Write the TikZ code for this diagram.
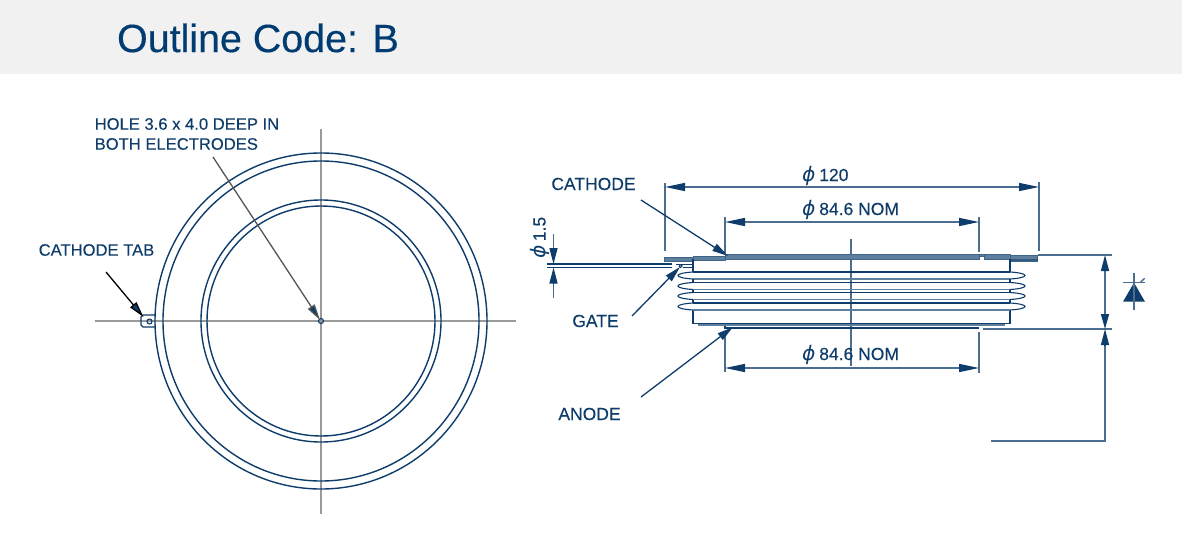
\documentclass[tikz,border=0pt]{standalone}
\usepackage{fontspec}
\setmainfont{Liberation Sans}
\newfontfamily\phifont[FakeSlant=0.2]{DejaVu Sans}
\usetikzlibrary{arrows.meta}
\definecolor{navy}{HTML}{0F3D6B}
\definecolor{titleblue}{HTML}{003C71}
\definecolor{steel}{HTML}{5F7F9F}
\definecolor{greyaxis}{HTML}{9A9A9A}
\definecolor{band}{HTML}{F1F1F1}
\newcommand{\dia}{{\fontsize{20}{20}\phifont ϕ}}
\tikzset{
  x=1pt,y=-1pt,
  outline/.style={draw=navy,line width=1.4pt},
  lobe/.style={draw=navy,line width=1.1pt},
  soft/.style={draw=steel,line width=1.6pt},
  axis/.style={draw=greyaxis,line width=1.5pt},
  dimline/.style={draw=navy!75!white,line width=1.4pt},
  dimarrow/.style={draw=navy,line width=1.3pt,-{Triangle[length=16pt,width=8pt,fill=navy]}},
  bothends/.style={draw=navy!75!white,line width=1.4pt,{Triangle[length=20pt,width=8pt,fill=navy,color=navy]}-{Triangle[length=20pt,width=8pt,fill=navy,color=navy]}},
  label/.style={text=navy,font=\fontsize{16.6}{20}\selectfont\addfontfeature{FakeBold=0.2},inner sep=0pt,anchor=center},
  biglabel/.style={label,font=\fontsize{17.5}{20}\selectfont\addfontfeature{FakeBold=0.2}},
  platefill/.style={fill=steel,draw=navy!80!white,line width=.5pt}
}
\begin{document}
\begin{tikzpicture}
\useasboundingbox (0,0) rectangle (1182,549);
\fill[white] (0,0) rectangle (1182,549);
\fill[band] (0,0) rectangle (1182,74);
\node[text=titleblue,font=\fontsize{39.4}{44}\selectfont\addfontfeature{FakeBold=0.35},inner sep=0pt,anchor=center] (title) at (258,38) {Outline Code: B};

% --- left view
\draw[axis] (95,321) -- (516,321);
\draw[axis] (321,129) -- (321,514);
\draw[outline] (321,321) ellipse [x radius=166,y radius=168];
\draw[outline] (321,321) ellipse [x radius=158,y radius=160];
\draw[outline] (321,321) ellipse [x radius=120,y radius=121];
\draw[outline] (321,321) ellipse [x radius=114,y radius=115];
\draw[outline,line width=1.1pt] (321,321) circle (2.5);
\draw[outline] (155,315) -- (143,315) -- (141,317) -- (141,325) -- (143,327) -- (155,327);
\draw[outline,line width=1.1pt] (149.5,321.5) circle (2.5);

\node[label,anchor=west] (hole1) at (94.5,124) {HOLE 3.6 x 4.0 DEEP IN};
\node[label,anchor=west] (hole2) at (94.5,144) {BOTH ELECTRODES};
\node[label,anchor=west] (tab) at (38.5,250) {CATHODE TAB};
\coordinate (holefrom) at (213,157);
\coordinate (holeto) at (320,320);
\coordinate (tabfrom) at (106,272);
\coordinate (tabto) at (143.5,317);
\draw[dimarrow,draw=black!45!greyaxis] (holefrom) -- (holeto);
\draw[dimarrow,draw=black] (tabfrom) -- (tabto);

% --- right view: centre line
\draw[dimline] (851,239) -- (851,366);

% flange and plate
\filldraw[platefill] (664.5,257) rectangle (693,261.3);
\filldraw[platefill] (1010,255) rectangle (1037.5,261.3);
\fill[navy!85!white] (1010,259.3) rectangle (1037.5,261.3);
\filldraw[platefill] (693,256.5) rectangle (725,260);
\filldraw[platefill] (725,254.5) rectangle (979,259.3);
\filldraw[platefill] (984,254.5) rectangle (1010,259.3);
\filldraw[platefill] (979,254.5) rectangle (984,256);

% body
\draw[outline] (693,259) -- (693,272);
\draw[outline] (1010,259) -- (1010,272);
\draw[outline] (693,310) -- (693,323.5) -- (1010,323.5) -- (1010,310);
\draw[soft,line width=1.8pt] (698,325) -- (1005,325);
\draw[outline] (725,325.5) -- (725,328) -- (979,328);
\foreach \t/\b [evaluate=\t as \ti using \t+1.2, evaluate=\b as \bi using \b-1.2] in {272/279, 282.5/289.5, 292.5/299.5, 303/310}{
  \draw[lobe] (693,\t) .. controls (673,\ti) and (673,\bi) .. (693,\b);
  \draw[lobe] (1010,\t) .. controls (1030,\ti) and (1030,\bi) .. (1010,\b);
  \draw[outline] (693,\t) -- (1010,\t);
  \draw[soft] (693,\b) -- (1010,\b);
}
\foreach \t/\b in {279/282.5, 289.5/292.5, 299.5/303}{
  \draw[lobe] (693,\t) -- (693,\b);
  \draw[lobe] (1010,\t) -- (1010,\b);
}

% gate wire
\draw[outline,line width=1.3pt] (547,264) -- (672,264);
\draw[outline,line width=1.3pt] (547,267.5) -- (672,267.5);
\draw[outline,line width=1pt] (676,264) -- (693,264);
\draw[outline,line width=1pt] (683,267.5) -- (693,267.5);
\draw[outline,line width=1pt] (680.7,266) circle (1.5);

% extension lines
\draw[dimline] (665,183) -- (665,251);
\draw[dimline] (1039,182) -- (1039,251);
\draw[dimline] (725,217) -- (725,253);
\draw[dimline] (979,217) -- (979,252);
\draw[dimline] (725,332) -- (725,372);
\draw[dimline] (979,332) -- (979,373);
\draw[dimline] (1038,255) -- (1112,255);
\draw[dimline] (983,329) -- (1112,329);
\draw[dimline] (991,441) -- (1105,441) -- (1105,345);
\draw[dimline] (553.5,234) -- (553.5,248);
\draw[dimline] (553.5,283) -- (553.5,298);

% dimension lines
\coordinate (w120a) at (665,187);   \coordinate (w120b) at (1039,187);
\coordinate (top84a) at (725,222);  \coordinate (top84b) at (979,222);
\coordinate (bot84a) at (725,368);  \coordinate (bot84b) at (979,368);
\coordinate (hgtop) at (1105,255);  \coordinate (hgbot) at (1105,329);
\coordinate (hglow) at (1105,345);
\draw[bothends] (w120a) -- (w120b);
\draw[bothends] (top84a) -- (top84b);
\draw[bothends] (bot84a) -- (bot84b);
\draw[bothends,{Triangle[length=16pt,width=8pt,fill=navy,color=navy]}-{Triangle[length=15pt,width=8pt,fill=navy,color=navy]}] (hgtop) -- (hgbot);
\draw[dimarrow] (hglow) -- (hgbot);
\coordinate (d15a) at (553.5,248);  \coordinate (d15ato) at (553.5,264);
\coordinate (d15b) at (553.5,283);  \coordinate (d15bto) at (553.5,267.5);
\draw[dimarrow] (d15a) -- (d15ato);
\draw[dimarrow] (d15b) -- (d15bto);

% labels and leaders
\node[biglabel,anchor=west] (lbl120) at (801,175.5) {\dia\ 120};
\node[biglabel,anchor=west] (lbltop) at (801,209.5) {\dia\ 84.6 NOM};
\node[biglabel,anchor=west] (lblbot) at (801,354.5) {\dia\ 84.6 NOM};
\node[biglabel,rotate=90] (lbl15) at (540,238) {\dia\ 1.5};
\node[biglabel] (cath) at (593.5,184) {CATHODE};
\node[biglabel] (gate) at (595.5,321) {GATE};
\node[biglabel] (anode) at (589.5,414) {ANODE};
\coordinate (cathfrom) at (641,200); \coordinate (cathto) at (728,256);
\coordinate (gatefrom) at (632,316); \coordinate (gateto) at (680,267);
\coordinate (anfrom) at (641,397);   \coordinate (anto) at (733,327);
\draw[dimarrow] (cathfrom) -- (cathto);
\draw[dimarrow] (gatefrom) -- (gateto);
\draw[dimarrow] (anfrom) -- (anto);

% diode symbol
\coordinate (dapex) at (1134,282.7);
\fill[navy] (dapex) -- (1145,301.7) -- (1123,301.7) -- cycle;
\draw[dimline] (1123,282.7) -- (1145,282.7);
\draw[dimline] (1134,272.7) -- (1134,310);
\draw[dimline] (1140,282.7) -- (1144.7,278.3);
\end{tikzpicture}
\end{document}
